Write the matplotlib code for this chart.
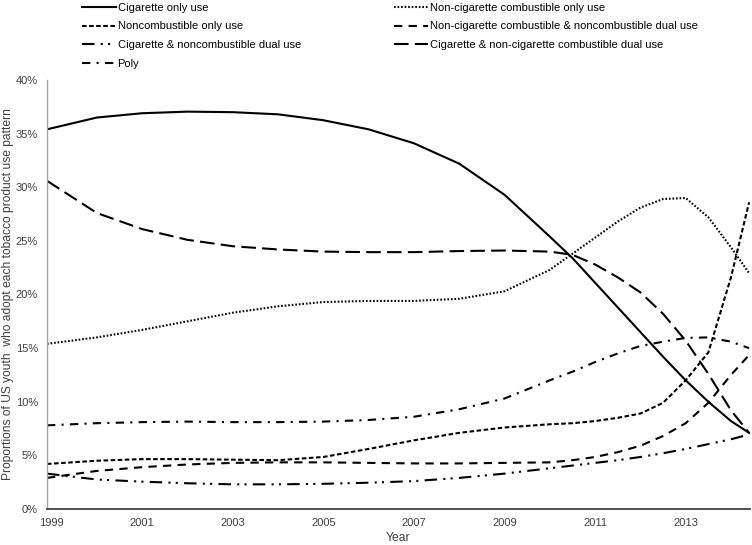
import matplotlib
matplotlib.use('Agg')
import matplotlib.pyplot as plt
from matplotlib.ticker import FuncFormatter

plt.rcParams['font.family'] = ['Liberation Sans', 'DejaVu Sans']

# Anos (pontos de leitura)
anos = [1998.9, 2000, 2001, 2002, 2003, 2004, 2005, 2006, 2007, 2008, 2009,
        2010, 2010.5, 2011, 2011.5, 2012, 2012.5, 2013, 2013.5, 2014, 2014.4]

# Proporções (%) de cada padrão de uso
cigarro_so = [35.4, 36.5, 36.9, 37.05, 37.0, 36.8, 36.25, 35.4, 34.1, 32.2, 29.3,
              25.4, 23.4, 21.1, 18.8, 16.5, 14.2, 12.0, 10.0, 8.2, 7.1]
nao_combustivel_so = [4.2, 4.5, 4.65, 4.65, 4.6, 4.55, 4.85, 5.6, 6.4, 7.1, 7.6,
                      7.9, 8.0, 8.2, 8.5, 8.9, 9.9, 12.0, 14.6, 21.6, 28.6]
cig_nao_comb = [3.3, 2.75, 2.55, 2.4, 2.3, 2.3, 2.35, 2.45, 2.6, 2.9, 3.3,
                3.8, 4.05, 4.3, 4.55, 4.85, 5.2, 5.6, 6.05, 6.5, 6.95]
poly = [7.8, 8.0, 8.1, 8.15, 8.1, 8.1, 8.15, 8.3, 8.6, 9.3, 10.3,
        12.0, 12.8, 13.7, 14.5, 15.2, 15.6, 15.95, 16.0, 15.6, 15.0]
outro_comb_so = [15.4, 16.0, 16.7, 17.5, 18.3, 18.9, 19.3, 19.4, 19.4, 19.6, 20.3,
                 22.3, 23.8, 25.3, 26.8, 28.1, 28.9, 29.0, 27.2, 24.4, 22.0]
outro_comb_nao_comb = [2.9, 3.55, 3.9, 4.15, 4.3, 4.35, 4.35, 4.3, 4.25, 4.25, 4.3,
                       4.35, 4.55, 4.85, 5.3, 5.9, 6.8, 8.0, 9.9, 12.5, 14.35]
cig_outro_comb = [30.6, 27.6, 26.1, 25.1, 24.5, 24.2, 24.0, 23.95, 23.95, 24.05, 24.1,
                  24.0, 23.7, 22.8, 21.6, 20.2, 18.2, 15.7, 12.6, 9.2, 7.1]

rotulos = ['Cigarette only use', 'Noncombustible only use',
           'Cigarette & noncombustible dual use', 'Poly',
           'Non-cigarette combustible only use',
           'Non-cigarette combustible & noncombustible dual use',
           'Cigarette & non-cigarette combustible dual use']
series = [cigarro_so, nao_combustivel_so, cig_nao_comb, poly,
          outro_comb_so, outro_comb_nao_comb, cig_outro_comb]
estilos = ['-', (0, (2.2, 1.2)), (0, (6, 3, 1, 2.5, 1, 3)), (0, (4, 3, 1, 3)),
           (0, (0.8, 0.9)), (0, (4, 3)), (0, (7, 3))]

fig = plt.figure(figsize=(7.52, 5.45), dpi=100)
ax = fig.add_axes([47 / 752, 1 - 509 / 545, 703 / 752, 429 / 545])

linhas = []
for valores, rotulo, estilo in zip(series, rotulos, estilos):
    l, = ax.plot(anos, valores, color='black', linewidth=1.5, linestyle=estilo, label=rotulo)
    linhas.append(l)

ax.set_xlim(1998.9, 2014.42)
ax.set_ylim(0, 40)
ax.set_xticks(range(1999, 2014, 2))
ax.set_yticks(range(0, 41, 5))
ax.yaxis.set_major_formatter(FuncFormatter(lambda v, p: f'{v:.0f}%'))
ax.tick_params(length=0, labelsize=8, colors='#404040')
ax.tick_params(axis='y', pad=6.5)
ax.tick_params(axis='x', pad=6.5)

for lado in ['top', 'right']:
    ax.spines[lado].set_visible(False)
ax.spines['left'].set_color('#a6a6a6')
ax.spines['left'].set_linewidth(1.0)
ax.spines['bottom'].set_color('#404040')
ax.spines['bottom'].set_linewidth(1.3)

ax.set_xlabel('Year', fontsize=8.7, color='#404040')
ax.xaxis.set_label_coords(0.5, -0.054)
ax.set_ylabel('Proportions of US youth  who adopt each tobacco product use pattern',
              fontsize=8.65, color='#404040')
ax.yaxis.set_label_coords(-0.047, 0.5)

fig.legend(handles=linhas, loc='upper left', bbox_to_anchor=(82 / 752, 0.995),
           ncol=2, frameon=False, fontsize=8, handlelength=3.05, handletextpad=0.15,
           columnspacing=8.4, labelspacing=0.78, borderpad=0, borderaxespad=0)

plt.savefig('out.png', dpi=100)
